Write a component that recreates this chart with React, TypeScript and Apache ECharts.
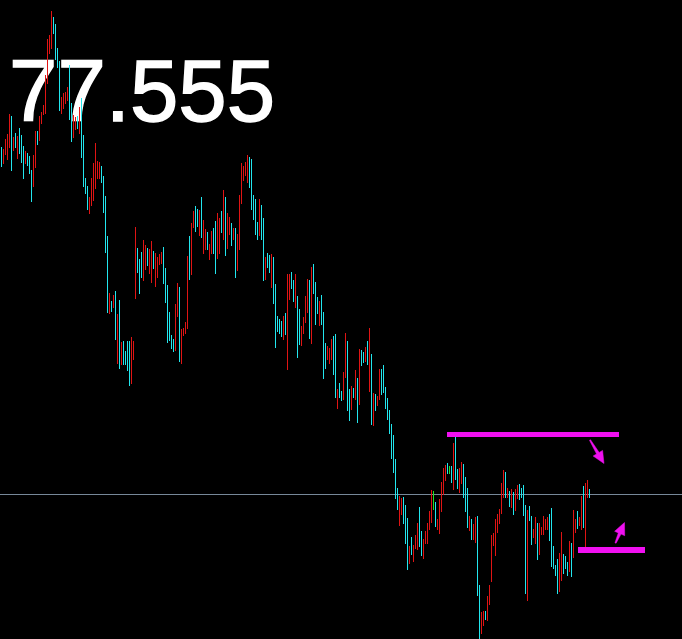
import React, { useEffect, useRef } from "react";
import * as echarts from "echarts";

// Bar highs (top of each bar) on the chart's inverted price scale
const barTops = [
  147, 149, 139, 134, 114, 116, 137, 133, 136, 128, 135, 146, 151, 153, 156, 170, 155, 131, 131, 116,
  112, 105, 75, 39, 35, 11, 17, 24, 48, 61, 97, 93, 92, 87, 65, 103, 115, 117, 116, 107, 98, 135,
  178, 186, 197, 178, 163, 143, 161, 162, 166, 176, 196, 236, 293, 301, 295, 291, 314, 300, 342, 341,
  351, 341, 341, 337, 341, 227, 248, 259, 252, 240, 245, 248, 249, 241, 251, 253, 257, 254, 252, 247,
  268, 285, 312,
  335, 339, 304, 283, 287, 329, 328, 322, 256, 236, 223, 211, 206, 209, 210, 197, 220, 229, 232, 244,
  231, 228, 221, 213, 218, 211, 190, 197, 213, 217, 223, 228, 228, 234, 195, 163, 166, 162, 155, 157,
  159, 195,
  199, 222, 199, 205, 218, 257, 253, 255, 254, 257, 284, 316, 319, 321, 316, 313, 274, 274, 272, 280,
  274, 296, 309, 326, 317, 296, 279, 280, 267, 264, 282, 297, 301, 295, 312, 343, 346, 348, 339, 336,
  334, 389, 383,
  391, 372, 333, 341, 389, 386, 388, 370, 378, 349, 350, 352, 347, 341, 328, 354, 393, 394, 396, 369,
  369, 365, 387, 398, 410, 424, 435, 459, 488, 496, 498, 497, 505, 518, 546, 537, 545, 535, 523, 507,
  531, 539,
  531, 523, 511, 490, 491, 502, 519, 499, 482, 468, 465, 463, 466, 466, 443, 436, 469, 468, 462, 464,
  477, 488, 516, 519, 524, 517, 516, 585, 612, 611, 611, 596, 585, 535, 533, 519, 514, 509, 483, 470,
  472, 488, 491,
  489, 492, 489, 485, 484, 488, 485, 505, 510, 506, 516, 529, 517, 523, 523, 527, 516, 519, 517, 514,
  508, 546, 565, 559, 553, 532, 554, 556, 562, 541, 543, 510, 519, 511, 517, 496, 486, 483, 480, 489,
];

// Bar lows (bottom of each bar)
const barBottoms = [
  166, 163, 154, 159, 147, 170, 150, 147, 158, 153, 162, 178, 163, 165, 173, 201, 186, 167, 144, 140,
  123, 114, 113, 83, 53, 48, 33, 59, 67, 110, 113, 108, 103, 100, 119, 141, 137, 129, 128, 133, 157, 186,
  193, 209, 213, 205, 200, 188, 178, 178, 182, 212, 252, 312, 313, 311, 307, 339, 363, 368, 364, 364,
  364, 370, 385, 383, 359, 298, 272, 293, 277, 280, 269, 265, 273, 282, 268, 286, 277, 264, 263, 283,
  302, 342, 340,
  348, 351, 350, 316, 361, 363, 335, 333, 328, 279, 274, 227, 231, 226, 235, 237, 253, 249, 249, 259,
  253, 253, 273, 258, 253, 232, 239, 255, 248, 234, 245, 239, 277, 270, 249, 203, 180, 175, 182, 187,
  209, 219,
  234, 239, 235, 239, 280, 279, 267, 272, 287, 303, 347, 331, 333, 336, 339, 334, 369, 299, 288, 301,
  307, 357, 344, 345, 333, 322, 312, 338, 343, 293, 324, 313, 325, 324, 378, 368, 359, 363, 359, 374,
  397, 408, 397,
  400, 399, 377, 410, 420, 409, 397, 399, 422, 404, 365, 362, 361, 364, 391, 424, 425, 410, 405, 399,
  394, 392, 408, 419, 433, 458, 472, 498, 509, 525, 514, 523, 543, 569, 563, 554, 561, 548, 549, 546,
  555, 558,
  543, 543, 529, 522, 509, 526, 529, 533, 511, 494, 480, 473, 473, 482, 489, 479, 488, 492, 483, 497,
  511, 527, 530, 539, 539, 542, 595, 639, 633, 625, 619, 620, 604, 581, 545, 555, 532, 523, 513, 497,
  497, 497, 506,
  507, 514, 510, 498, 499, 497, 515, 593, 600, 520, 544, 537, 543, 559, 554, 534, 534, 529, 529, 540,
  566, 568, 575, 593, 591, 580, 573, 568, 575, 571, 576, 557, 532, 528, 525, 529, 527, 547, 497, 497,
];

// Bar direction: u = up (close > open), d = down, n = unchanged
const barDirs = (
  "duuuududud" + "dduddduudu" + "uuuuuudddd" + "uuuudduudu" + "dd" +
  "dduuuuuudd" + "ddudududud" + "ddduuudddu" + "uduuduuuud" + "ddd" +
  "dduuduuuud" + "uudduduudu" + "udduududuu" + "duduuuuuud" + "dd" +
  "ddudduddud" + "dddduduudd" + "udduuuudud" + "dduddduuud" + "dud" +
  "duuddududu" + "ddudududuu" + "dddddddddu" + "uddduduuud" + "du" +
  "uuuunduuuu" + "udndudduud" + "dduduudduu" + "duuuuuuuuu" + "dud" +
  "uduuddddud" + "duuduuuuud" + "dddduudddu" + "duuduuduud"
).split("");

const barSlots = [0, 341];
const bidPrice = [494.5];
const priceLabel = ["77.555"];
// horizontal levels: [fromBar, toBar, level]
const upperLevel = [223.5, 309.5, 434.5];
const lowerLevel = [289, 322.5, 550];
// arrows: [tailBar, tailLevel, tipBar, tipLevel]
const arrowDown = [295, 440, 302, 463.5];
const arrowUp = [307.75, 543, 312.25, 522.5];

const UP = "#e01414";
const DOWN = "#22e6ee";
const FLAT = "#22e022";
const MAGENTA = "#f010f0";

export default function App() {
  const ref = useRef<HTMLDivElement>(null);

  useEffect(() => {
    document.body.style.margin = "0";
    document.body.style.background = "#000";
    if (!ref.current) return;
    const chart = echarts.init(ref.current, undefined, { renderer: "svg" });

    const bars = barTops.map((t, i) => [i, t, barBottoms[i], barDirs[i] === "u" ? 1 : barDirs[i] === "d" ? -1 : 0]);

    chart.setOption({
      animation: false,
      backgroundColor: "#000",
      grid: { left: 0, right: 0, top: 0, bottom: 0, containLabel: false },
      xAxis: { type: "value", min: barSlots[0], max: barSlots[1], show: false },
      yAxis: { type: "value", min: 0, max: 639, inverse: true, show: false },
      graphic: {
        elements: [
          {
            type: "text",
            z: 0,
            x: 9,
            y: 90,
            style: {
              text: priceLabel[0],
              fill: "#ffffff",
              stroke: "#ffffff",
              lineWidth: 1.4,
              lineJoin: "round",
              font: "87px 'Liberation Sans', Arial, sans-serif",
              textVerticalAlign: "middle",
              verticalAlign: "middle",
            },
          },
        ],
      },
      series: [
        {
          type: "line",
          data: [[barSlots[0], bidPrice[0]], [barSlots[1], bidPrice[0]]],
          symbol: "none",
          lineStyle: { color: "#778899", width: 1 },
          silent: true,
          z: 1,
        },
        {
          type: "custom",
          data: bars,
          z: 3,
          clip: false,
          renderItem: (_params: any, api: any) => {
            const i = api.value(0);
            const top = api.coord([i, api.value(1)]);
            const bot = api.coord([i, api.value(2)]);
            const x = Math.round(top[0]) + 1.5;
            const d = api.value(3);
            return {
              type: "line",
              shape: { x1: x, y1: top[1], x2: x, y2: bot[1] + 1 },
              style: { stroke: d > 0 ? UP : d < 0 ? DOWN : FLAT, lineWidth: 1 },
            };
          },
        },
        {
          type: "line",
          data: [[upperLevel[0], upperLevel[2]], [upperLevel[1], upperLevel[2]]],
          symbol: "none",
          lineStyle: { color: MAGENTA, width: 5, cap: "butt" },
          silent: true,
          z: 4,
        },
        {
          type: "line",
          data: [[lowerLevel[0], lowerLevel[2]], [lowerLevel[1], lowerLevel[2]]],
          symbol: "none",
          lineStyle: { color: MAGENTA, width: 6, cap: "butt" },
          silent: true,
          z: 4,
        },
        {
          type: "custom",
          data: [arrowDown, arrowUp],
          z: 4,
          clip: false,
          renderItem: (_params: any, api: any) => {
            const a = api.coord([api.value(0), api.value(1)]);
            const b = api.coord([api.value(2), api.value(3)]);
            const dx = b[0] - a[0];
            const dy = b[1] - a[1];
            const len = Math.sqrt(dx * dx + dy * dy);
            const ux = dx / len;
            const uy = dy / len;
            const nx = -uy;
            const ny = ux;
            const headLen = 12;
            const shaft = 1.5;
            const head = 5.5;
            const hx = b[0] - ux * headLen;
            const hy = b[1] - uy * headLen;
            const pts = [
              [a[0] + nx * 0.6, a[1] + ny * 0.6],
              [hx + nx * shaft, hy + ny * shaft],
              [hx + nx * head, hy + ny * head],
              [b[0], b[1]],
              [hx - nx * head, hy - ny * head],
              [hx - nx * shaft, hy - ny * shaft],
              [a[0] - nx * 0.6, a[1] - ny * 0.6],
            ];
            return {
              type: "polygon",
              shape: { points: pts },
              style: { fill: MAGENTA, stroke: MAGENTA, lineWidth: 0.5 },
            };
          },
        },
      ],
    });

    return () => chart.dispose();
  }, []);

  return <div ref={ref} style={{ width: 682, height: 639, background: "#000" }} />;
}
